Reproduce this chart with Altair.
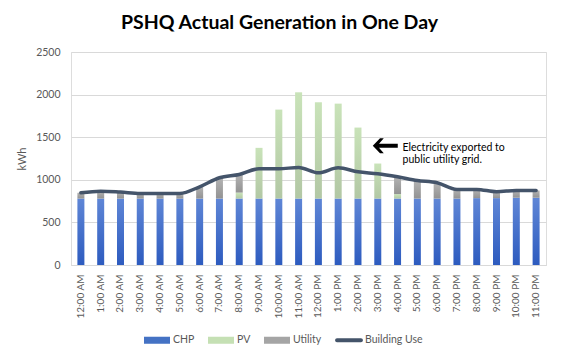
import altair as alt
import pandas as pd

hours = ["12:00 AM", "1:00 AM", "2:00 AM", "3:00 AM", "4:00 AM", "5:00 AM",
         "6:00 AM", "7:00 AM", "8:00 AM", "9:00 AM", "10:00 AM", "11:00 AM",
         "12:00 PM", "1:00 PM", "2:00 PM", "3:00 PM", "4:00 PM", "5:00 PM",
         "6:00 PM", "7:00 PM", "8:00 PM", "9:00 PM", "10:00 PM", "11:00 PM"]
chp = [780, 780, 780, 780, 780, 780, 780, 780, 780, 780, 780, 780,
       780, 780, 780, 780, 780, 780, 780, 780, 785, 785, 790, 790]
pv = [0, 0, 0, 0, 0, 0, 0, 0, 70, 595, 1044, 1247,
      1130, 1114, 833, 411, 52, 0, 0, 0, 0, 0, 0, 0]
utility = [68, 87, 76, 60, 60, 60, 138, 244, 213, 0, 0, 0,
           0, 0, 0, 0, 203, 212, 185, 107, 102, 75, 85, 85]
building = [848, 867, 856, 840, 840, 840, 918, 1024, 1063, 1129, 1129, 1145,
            1082, 1141, 1094, 1071, 1035, 992, 965, 887, 887, 860, 875, 875]

series = ["CHP", "PV", "Utility", "Building Use"]
series_colors = ["#4472c4", "#c5e0b4", "#a5a5a5", "#44546a"]
rect_path = "M-1,-0.27H1V0.27H-1Z"
line_path = "M-0.92,-0.15H0.92A0.15,0.15 0 0 1 0.92,0.15H-0.92A0.15,0.15 0 0 1 -0.92,-0.15Z"
series_shapes = [rect_path, rect_path, rect_path, line_path]

note_lines = ["Electricity exported to", "public utility grid."]

df = pd.DataFrame({"hour": hours, "chp": chp, "pv": pv, "utility": utility,
                   "building": building})
df["pv_lo"] = df["chp"]
df["pv_hi"] = df["chp"] + df["pv"]
df["ut_lo"] = df["pv_hi"]
df["ut_hi"] = df["pv_hi"] + df["utility"]

FONT = "Lato"
TXT = "#595959"

x_enc = alt.X("hour:N", sort=hours, title=None,
              scale=alt.Scale(paddingInner=0, paddingOuter=0),
              axis=alt.Axis(labelAngle=270, labelFontSize=10, labelColor=TXT,
                            labelFont=FONT, labelPadding=9, ticks=False,
                            domainColor="#d9d9d9", grid=False))
y_scale = alt.Scale(domain=[0, 2500], nice=False)
y_axis = alt.Axis(values=[0, 500, 1000, 1500, 2000, 2500], format="d",
                  labelFontSize=10.5,
                  labelColor=TXT, labelFont=FONT, labelPadding=11, ticks=False,
                  domain=False, gridColor="#d9d9d9", titleFont=FONT,
                  titleFontSize=11, titleColor=TXT, titleFontWeight="normal",
                  titlePadding=8)

def grad(top, bottom):
    return alt.Gradient(gradient="linear",
                        stops=[alt.GradientStop(color=top, offset=0),
                               alt.GradientStop(color=bottom, offset=1)],
                        x1=0, x2=0, y1=0, y2=1)

base = alt.Chart(df)

chp_bars = base.mark_bar(size=7, color=grad("#5f86d6", "#2d5bbf")).encode(
    x=x_enc, y=alt.Y("chp:Q", scale=y_scale, axis=y_axis, title="kWh"))
pv_bars = base.transform_filter("datum.pv > 0").mark_bar(
    size=7, color=grad("#c9e3b9", "#b2c7a4")).encode(
    x=x_enc, y=alt.Y("pv_lo:Q", scale=y_scale, axis=y_axis, title="kWh"),
    y2="pv_hi:Q")
ut_bars = base.transform_filter("datum.utility > 0").mark_bar(
    size=7, color=grad("#b3b3b3", "#929292")).encode(
    x=x_enc, y=alt.Y("ut_lo:Q", scale=y_scale, axis=y_axis, title="kWh"),
    y2="ut_hi:Q")
line = base.mark_line(color="#44546a", strokeWidth=3.5, interpolate="monotone",
                      strokeCap="round").encode(
    x=x_enc, y=alt.Y("building:Q", scale=y_scale, axis=y_axis, title="kWh"))

leg_df = pd.DataFrame({"series": series})
legend = alt.Legend(orient="none", legendX=73, legendY=275, direction="horizontal",
                    title=None, symbolSize=676, symbolOpacity=1,
                    symbolStrokeWidth=0, labelFont=FONT, labelFontSize=10.5,
                    labelColor=TXT, labelOffset=3, columnPadding=13)
leg_layer = alt.Chart(leg_df).mark_point(filled=True, opacity=0).encode(
    color=alt.Color("series:N", sort=series,
                    scale=alt.Scale(domain=series, range=series_colors),
                    legend=legend),
    shape=alt.Shape("series:N", sort=series,
                    scale=alt.Scale(domain=series, range=series_shapes),
                    legend=legend))

arrow_path = ("M-1,0 L-0.42,-0.6 L-0.12,-0.6 L-0.5,-0.16 L1,-0.16 L1,0.16 "
              "L-0.5,0.16 L-0.12,0.6 L-0.42,0.6 Z")
arrow = alt.Chart(leg_df).mark_point(shape=arrow_path, size=625, filled=True,
                                     color="#000000", opacity=1, xOffset=7.5,
                                     strokeWidth=0).encode(
    x=alt.datum("3:00 PM"), y=alt.datum(1400))
note = alt.Chart(leg_df).mark_text(text=note_lines, align="left", baseline="middle",
                                   lineHeight=12, font=FONT, fontSize=10.5,
                                   color="#000000", dx=5).encode(
    x=alt.datum("4:00 PM"), y=alt.datum(1370))

chart = alt.layer(chp_bars, pv_bars, ut_bars, line, leg_layer,
                  arrow.transform_filter("datum.series == 'CHP'"),
                  note.transform_filter("datum.series == 'CHP'")).properties(
    width=475, height=213,
    title=alt.TitleParams("PSHQ Actual Generation in One Day", font=FONT,
                          fontSize=19.5, fontWeight="bold", color="#000000",
                          anchor="middle", dx=-29, offset=14),
    autosize=alt.AutoSizeParams(type="none"),
    padding={"left": 63, "top": 44, "right": 8, "bottom": 87},
).configure_view(stroke=None).configure(background="white")

chart.save("out.html", embed_options={"renderer": "svg", "actions": False})
